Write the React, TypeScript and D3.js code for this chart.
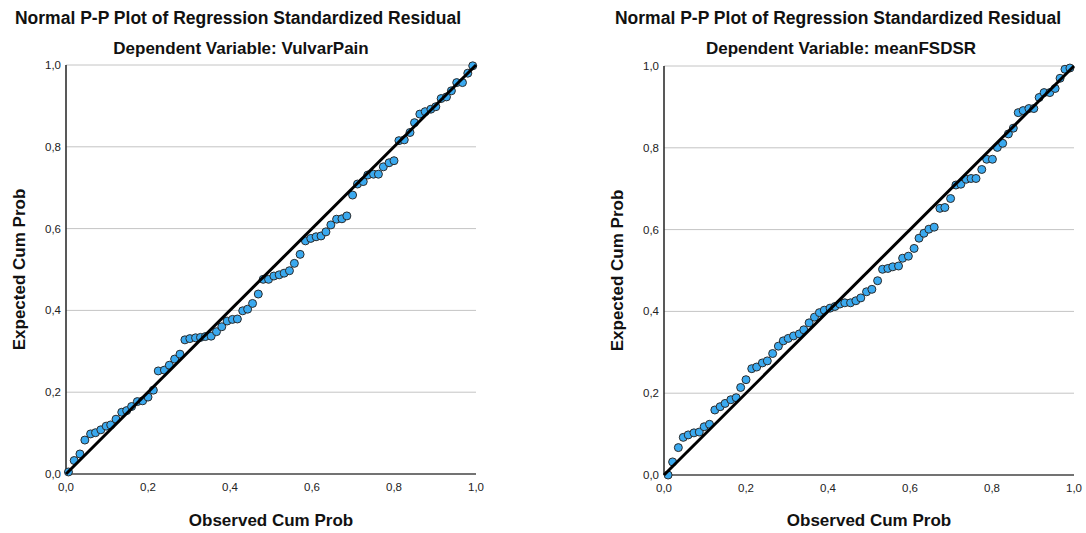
import React from "react";
import * as d3 from "d3";

const TITLE = "Normal P-P Plot of Regression Standardized Residual";
const leftSubtitle = "Dependent Variable: VulvarPain";
const rightSubtitle = "Dependent Variable: meanFSDSR";
const xAxisTitle = "Observed Cum Prob";
const yAxisTitle = "Expected Cum Prob";
const tickValues = [0, 0.2, 0.4, 0.6, 0.8, 1.0];
const tickLabels = ["0,0", "0,2", "0,4", "0,6", "0,8", "1,0"];

const leftObs = [
  0.006, 0.02, 0.034, 0.046, 0.06, 0.072, 0.085, 0.098, 0.109, 0.122,
  0.136, 0.148, 0.16, 0.174, 0.187, 0.2, 0.213, 0.225, 0.24, 0.252,
  0.265, 0.278, 0.29, 0.302, 0.316, 0.328, 0.34, 0.354, 0.367, 0.38,
  0.393, 0.406, 0.418, 0.431, 0.443, 0.455, 0.469, 0.481, 0.494, 0.507,
  0.52, 0.532, 0.545, 0.557, 0.571, 0.584, 0.597, 0.61, 0.622, 0.634,
  0.646, 0.66, 0.673, 0.685, 0.699, 0.711, 0.725, 0.736, 0.75, 0.762,
  0.774, 0.788, 0.8, 0.812, 0.825, 0.839, 0.85, 0.863, 0.876, 0.89,
  0.902, 0.915, 0.928, 0.94, 0.953, 0.967, 0.98, 0.992,
];
const leftExp = [
  0.005, 0.033, 0.049, 0.083, 0.098, 0.101, 0.108, 0.117, 0.12, 0.134,
  0.151, 0.155, 0.165, 0.177, 0.179, 0.188, 0.205, 0.252, 0.254, 0.266,
  0.281, 0.293, 0.328, 0.331, 0.333, 0.334, 0.336, 0.337, 0.348, 0.36,
  0.374, 0.378, 0.379, 0.399, 0.403, 0.417, 0.44, 0.476, 0.476, 0.484,
  0.487, 0.491, 0.497, 0.515, 0.537, 0.57, 0.576, 0.58, 0.582, 0.592,
  0.609, 0.623, 0.624, 0.631, 0.682, 0.709, 0.715, 0.731, 0.733, 0.733,
  0.751, 0.761, 0.766, 0.815, 0.817, 0.835, 0.859, 0.88, 0.886, 0.892,
  0.898, 0.918, 0.922, 0.937, 0.957, 0.957, 0.98, 0.998,
];

const rightObs = [
  0.01, 0.021, 0.035, 0.047, 0.059, 0.073, 0.086, 0.098, 0.111, 0.124,
  0.137, 0.149, 0.163, 0.176, 0.187, 0.2, 0.214, 0.226, 0.24, 0.252,
  0.265, 0.279, 0.291, 0.303, 0.316, 0.33, 0.341, 0.354, 0.367, 0.379,
  0.391, 0.405, 0.417, 0.429, 0.441, 0.455, 0.468, 0.48, 0.494, 0.507,
  0.521, 0.533, 0.546, 0.558, 0.572, 0.582, 0.596, 0.61, 0.622, 0.634,
  0.646, 0.659, 0.673, 0.685, 0.699, 0.712, 0.724, 0.737, 0.749, 0.761,
  0.775, 0.787, 0.801, 0.813, 0.826, 0.84, 0.852, 0.864, 0.876, 0.89,
  0.902, 0.915, 0.927, 0.941, 0.954, 0.966, 0.978, 0.99,
];
const rightExp = [
  0.0, 0.032, 0.067, 0.092, 0.098, 0.103, 0.105, 0.118, 0.124, 0.159,
  0.167, 0.175, 0.184, 0.189, 0.214, 0.233, 0.26, 0.264, 0.274, 0.279,
  0.297, 0.315, 0.328, 0.334, 0.34, 0.345, 0.355, 0.372, 0.386, 0.397,
  0.403, 0.408, 0.412, 0.418, 0.421, 0.421, 0.426, 0.433, 0.448, 0.454,
  0.475, 0.503, 0.505, 0.509, 0.511, 0.53, 0.535, 0.554, 0.579, 0.591,
  0.601, 0.606, 0.652, 0.654, 0.676, 0.709, 0.711, 0.723, 0.725, 0.725,
  0.747, 0.772, 0.772, 0.801, 0.811, 0.834, 0.848, 0.886, 0.891, 0.896,
  0.896, 0.923, 0.935, 0.935, 0.945, 0.97, 0.992, 0.995,
];

const FONT = "'Liberation Sans', Arial, Helvetica, sans-serif";

type PanelProps = {
  x0: number;
  x1: number;
  yTop: number;
  yBottom: number;
  titleX: number;
  subtitle: string;
  obs: number[];
  exp: number[];
  yTitleX: number;
};

function Panel({ x0, x1, yTop, yBottom, titleX, subtitle, obs, exp, yTitleX }: PanelProps) {
  const x = d3.scaleLinear().domain([0, 1]).range([x0, x1]);
  const y = d3.scaleLinear().domain([0, 1]).range([yBottom, yTop]);
  const pts = obs.map((o, i) => ({ o, e: exp[i] }));
  const midX = (x0 + x1) / 2;
  const midY = (yTop + yBottom) / 2;
  return (
    <g fontFamily={FONT}>
      <text x={titleX} y={24} textAnchor="middle" fontSize={17.5} fontWeight="bold" fill="#111">
        {TITLE}
      </text>
      <text x={titleX + 3} y={54} textAnchor="middle" fontSize={17} fontWeight="bold" fill="#111">
        {subtitle}
      </text>
      {tickValues.slice(1).map((t) => (
        <line key={"g" + t} x1={x(0)} x2={x(1)} y1={y(t)} y2={y(t)} stroke="#c4c4c4" strokeWidth={1} />
      ))}
      {tickValues.map((t, i) => (
        <text key={"yl" + t} x={x0 - 5} y={y(t) + 4} textAnchor="end" fontSize={11.5} fill="#222">
          {tickLabels[i]}
        </text>
      ))}
      {tickValues.map((t, i) => (
        <text key={"xl" + t} x={x(t)} y={y(0) + 17} textAnchor="middle" fontSize={11.5} fill="#222">
          {tickLabels[i]}
        </text>
      ))}
      <line x1={x0} x2={x0} y1={yTop} y2={yBottom} stroke="#222" strokeWidth={1.5} />
      <line x1={x0} x2={x1} y1={yBottom} y2={yBottom} stroke="#444" strokeWidth={1.5} />
      {pts.map((p, i) => (
        <circle key={i} cx={x(p.o)} cy={y(p.e)} r={4} fill="#3aa9ef" stroke="#2b2b2b" strokeWidth={1} />
      ))}
      <line x1={x(0)} y1={y(0)} x2={x(1)} y2={y(1)} stroke="#000" strokeWidth={3} />
      <text x={midX} y={526} textAnchor="middle" fontSize={17} fontWeight="bold" fill="#111">
        {xAxisTitle}
      </text>
      <text
        transform={`translate(${yTitleX},${midY}) rotate(-90)`}
        textAnchor="middle"
        fontSize={17}
        fontWeight="bold"
        fill="#111"
      >
        {yAxisTitle}
      </text>
    </g>
  );
}

export default function App() {
  return (
    <svg
      width={1086}
      height={533}
      style={{ position: "absolute", left: 0, top: 0, background: "#fff" }}
    >
      <rect x={0} y={0} width={1086} height={533} fill="#fff" />
      <Panel
        x0={66}
        x1={476}
        yTop={65}
        yBottom={474}
        titleX={238}
        subtitle={leftSubtitle}
        obs={leftObs}
        exp={leftExp}
        yTitleX={25}
      />
      <Panel
        x0={664}
        x1={1074}
        yTop={66}
        yBottom={475}
        titleX={838}
        subtitle={rightSubtitle}
        obs={rightObs}
        exp={rightExp}
        yTitleX={623}
      />
    </svg>
  );
}
